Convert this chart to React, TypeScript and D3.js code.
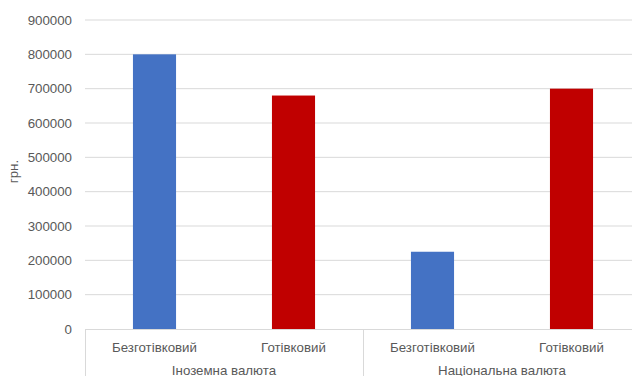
import React, { useEffect, useRef } from 'react';
import * as d3 from 'd3';

const groups = ['Іноземна валюта', 'Національна валюта'];
const kinds = ['Безготівковий', 'Готівковий'];
const values = [800000, 680000, 225000, 700000];
const colors = ['#4472c4', '#c00000'];
const yTicks = [0, 100000, 200000, 300000, 400000, 500000, 600000, 700000, 800000, 900000];

function App() {
    const svgRef = useRef<SVGSVGElement>(null);

    useEffect(() => {
        const svg = d3.select(svgRef.current);
        svg.selectAll('*').remove();

        const left = 85, right = 641, top = 20, bottom = 329;
        const font = 'Arial, "Liberation Sans", sans-serif';
        const textColor = '#595959';
        const lineColor = '#d9d9d9';

        const cats = groups.flatMap(g => kinds.map(k => `${g}|${k}`));
        const x = d3.scaleBand().domain(cats).range([left, right]).paddingInner(0.69).paddingOuter(0.345);
        const band = d3.scaleBand().domain(cats).range([left, right]);
        const y = d3.scaleLinear().domain([0, 900000]).range([bottom, top]);

        // gridlines
        svg.append('g').selectAll('line')
            .data(yTicks.filter(t => t > 0))
            .enter().append('line')
            .attr('x1', left).attr('x2', right)
            .attr('y1', d => y(d)).attr('y2', d => y(d))
            .attr('stroke', lineColor).attr('stroke-width', 1);

        // y tick labels
        svg.append('g').selectAll('text')
            .data(yTicks)
            .enter().append('text')
            .attr('x', 72)
            .attr('y', d => y(d))
            .attr('dy', '0.35em')
            .attr('text-anchor', 'end')
            .style('font-family', font)
            .style('font-size', '13.3px')
            .attr('fill', textColor)
            .text(d => String(d));

        // bars
        svg.append('g').selectAll('rect')
            .data(values)
            .enter().append('rect')
            .attr('x', (d, i) => x(cats[i])!)
            .attr('width', x.bandwidth())
            .attr('y', d => y(d))
            .attr('height', d => bottom - y(d))
            .attr('fill', (d, i) => colors[i % 2]);

        // x axis line and group separators
        svg.append('line')
            .attr('x1', left).attr('x2', right)
            .attr('y1', bottom + 0.5).attr('y2', bottom + 0.5)
            .attr('stroke', lineColor);
        const seps = [left, band(cats[2])!, right];
        svg.append('g').selectAll('line')
            .data(seps)
            .enter().append('line')
            .attr('x1', d => Math.round(d) + 0.5).attr('x2', d => Math.round(d) + 0.5)
            .attr('y1', bottom).attr('y2', 376)
            .attr('stroke', lineColor);

        // category labels
        svg.append('g').selectAll('text')
            .data(cats)
            .enter().append('text')
            .attr('x', d => band(d)! + band.bandwidth() / 2)
            .attr('y', 352)
            .attr('text-anchor', 'middle')
            .style('font-family', font)
            .style('font-size', '13.3px')
            .attr('fill', textColor)
            .text(d => d.split('|')[1]);

        // group labels
        svg.append('g').selectAll('text')
            .data(groups)
            .enter().append('text')
            .attr('x', (d, i) => (band(cats[i * 2])! + band(cats[i * 2 + 1])! + band.bandwidth()) / 2)
            .attr('y', 374.5)
            .attr('text-anchor', 'middle')
            .style('font-family', font)
            .style('font-size', '13.3px')
            .attr('fill', textColor)
            .text(d => d);

        // y axis title
        svg.append('text')
            .attr('transform', `translate(18,${(top + bottom) / 2 - 3}) rotate(-90)`)
            .attr('text-anchor', 'middle')
            .style('font-family', font)
            .style('font-size', '13.3px')
            .attr('fill', textColor)
            .text('грн.');
    }, []);

    return (
        <svg ref={svgRef} width={632} height={376}
            style={{ position: 'absolute', left: 0, top: 0, background: '#fff' }} />
    );
}

export default App;
